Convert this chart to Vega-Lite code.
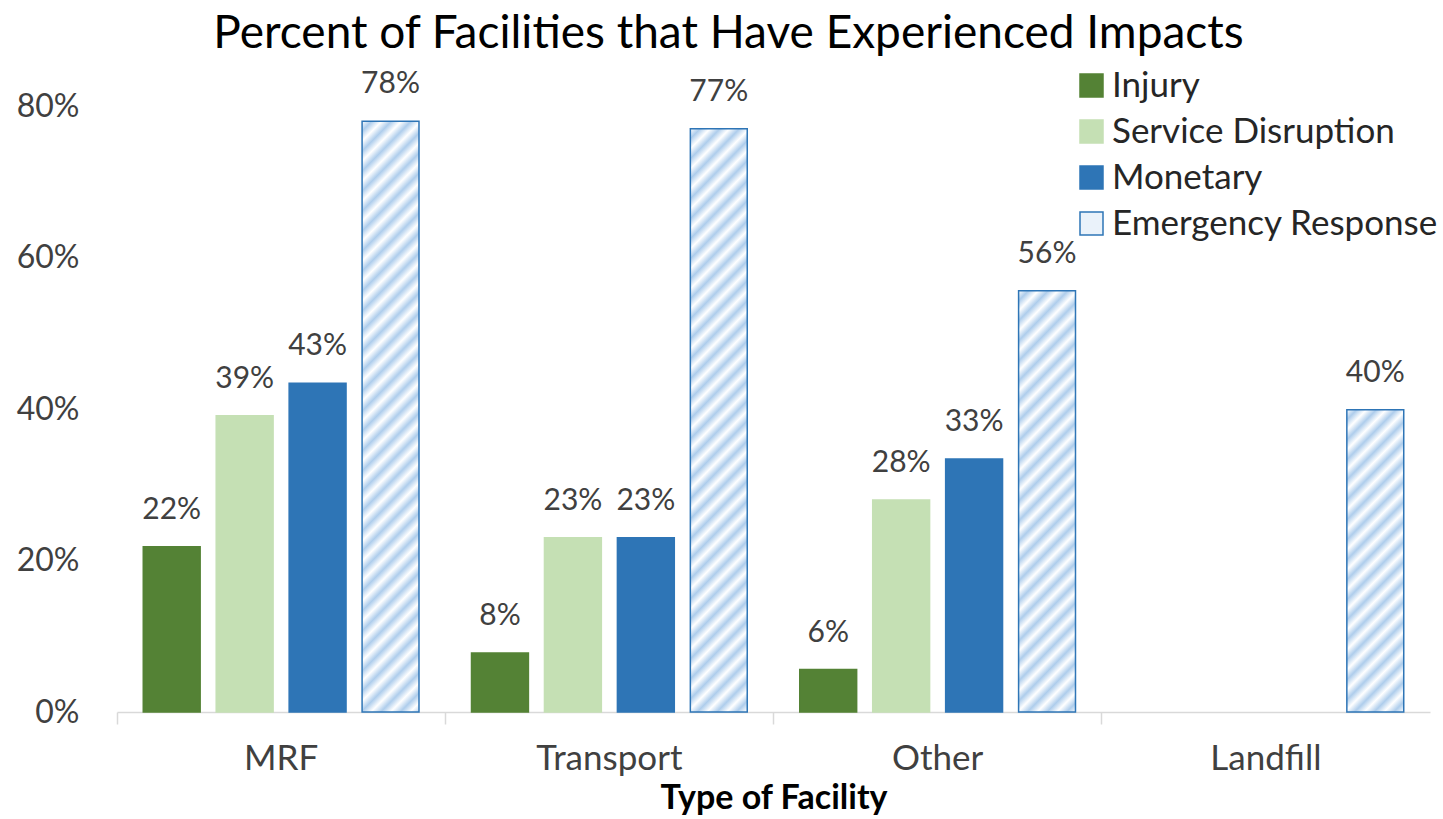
{
  "$schema": "https://vega.github.io/schema/vega-lite/v6.json",
  "width": 1313,
  "height": 606,
  "autosize": {"type": "none"},
  "padding": {"left": 117, "top": 106, "right": 13, "bottom": 107},
  "background": "white",
  "title": {"text": "Percent of Facilities that Have Experienced Impacts", "font": "Lato", "fontSize": 46, "fontWeight": "normal", "color": "#000000", "anchor": "middle", "dx": -45, "offset": 10},
  "data": {"values": [
    {"facility": "MRF", "series": "Injury", "value": 0.218},
    {"facility": "MRF", "series": "Service Disruption", "value": 0.391},
    {"facility": "MRF", "series": "Monetary", "value": 0.434},
    {"facility": "MRF", "series": "Emergency Response", "value": 0.78},
    {"facility": "Transport", "series": "Injury", "value": 0.078},
    {"facility": "Transport", "series": "Service Disruption", "value": 0.23},
    {"facility": "Transport", "series": "Monetary", "value": 0.23},
    {"facility": "Transport", "series": "Emergency Response", "value": 0.77},
    {"facility": "Other", "series": "Injury", "value": 0.056},
    {"facility": "Other", "series": "Service Disruption", "value": 0.28},
    {"facility": "Other", "series": "Monetary", "value": 0.334},
    {"facility": "Other", "series": "Emergency Response", "value": 0.556},
    {"facility": "Landfill", "series": "Emergency Response", "value": 0.399}
  ]},
  "encoding": {
    "x": {"field": "facility", "type": "nominal", "sort": ["MRF", "Transport", "Other", "Landfill"], "scale": {"paddingInner": 0, "paddingOuter": 0},
      "axis": {"title": "Type of Facility", "labelAngle": 0, "domainColor": "#D9D9D9", "domainWidth": 1.5, "ticks": true, "tickColor": "#D9D9D9", "tickWidth": 1.5, "tickSize": 12, "bandPosition": 0, "labelFont": "Lato", "labelFontSize": 35, "labelColor": "#404040", "labelPadding": 17, "titleFont": "Lato", "titleFontSize": 34, "titleFontWeight": "bold", "titleColor": "#000000", "titlePadding": 5, "grid": false}},
    "xOffset": {"field": "series", "type": "nominal", "scale": {"domain": ["Injury", "Service Disruption", "Monetary", "Emergency Response"], "paddingInner": 0.22, "paddingOuter": 0.36}},
    "y": {"field": "value", "type": "quantitative", "scale": {"domain": [0, 0.8]},
      "axis": {"title": null, "format": ".0%", "values": [0, 0.2, 0.4, 0.6, 0.8], "domain": false, "ticks": false, "grid": false, "labelFont": "Lato", "labelFontSize": 32, "labelColor": "#404040", "labelPadding": 38}}
  },
  "layer": [
    {
      "mark": {"type": "bar", "strokeWidth": 1.5},
      "encoding": {
        "fill": {"field": "series", "type": "nominal", "title": null,
          "scale": {"domain": ["Injury", "Service Disruption", "Monetary", "Emergency Response"], "range": ["#548235", "#C5E0B4", "#2E75B6", "#EAF2FA"]},
          "condition": [
            {"test": "datum.series === 'Emergency Response' && datum.facility === 'MRF'", "value": {"gradient": "linear", "x1": 0, "y1": 0, "x2": 0.1085, "y2": 1.1061, "stops": [
{"offset":0,"color":"#ffffff"},{"offset":0.0152,"color":"#aecdec"},{"offset":0.0303,"color":"#ffffff"},{"offset":0.0455,"color":"#aecdec"},{"offset":0.0606,"color":"#ffffff"},{"offset":0.0758,"color":"#aecdec"},{"offset":0.0909,"color":"#ffffff"},{"offset":0.1061,"color":"#aecdec"},{"offset":0.1212,"color":"#ffffff"},{"offset":0.1364,"color":"#aecdec"},{"offset":0.1515,"color":"#ffffff"},{"offset":0.1667,"color":"#aecdec"},{"offset":0.1818,"color":"#ffffff"},{"offset":0.1970,"color":"#aecdec"},{"offset":0.2121,"color":"#ffffff"},{"offset":0.2273,"color":"#aecdec"},{"offset":0.2424,"color":"#ffffff"},{"offset":0.2576,"color":"#aecdec"},{"offset":0.2727,"color":"#ffffff"},{"offset":0.2879,"color":"#aecdec"},{"offset":0.3030,"color":"#ffffff"},{"offset":0.3182,"color":"#aecdec"},{"offset":0.3333,"color":"#ffffff"},{"offset":0.3485,"color":"#aecdec"},{"offset":0.3636,"color":"#ffffff"},{"offset":0.3788,"color":"#aecdec"},{"offset":0.3939,"color":"#ffffff"},{"offset":0.4091,"color":"#aecdec"},{"offset":0.4242,"color":"#ffffff"},{"offset":0.4394,"color":"#aecdec"},{"offset":0.4545,"color":"#ffffff"},{"offset":0.4697,"color":"#aecdec"},{"offset":0.4848,"color":"#ffffff"},{"offset":0.5,"color":"#aecdec"},{"offset":0.5152,"color":"#ffffff"},{"offset":0.5303,"color":"#aecdec"},{"offset":0.5455,"color":"#ffffff"},{"offset":0.5606,"color":"#aecdec"},{"offset":0.5758,"color":"#ffffff"},{"offset":0.5909,"color":"#aecdec"},{"offset":0.6061,"color":"#ffffff"},{"offset":0.6212,"color":"#aecdec"},{"offset":0.6364,"color":"#ffffff"},{"offset":0.6515,"color":"#aecdec"},{"offset":0.6667,"color":"#ffffff"},{"offset":0.6818,"color":"#aecdec"},{"offset":0.6970,"color":"#ffffff"},{"offset":0.7121,"color":"#aecdec"},{"offset":0.7273,"color":"#ffffff"},{"offset":0.7424,"color":"#aecdec"},{"offset":0.7576,"color":"#ffffff"},{"offset":0.7727,"color":"#aecdec"},{"offset":0.7879,"color":"#ffffff"},{"offset":0.8030,"color":"#aecdec"},{"offset":0.8182,"color":"#ffffff"},{"offset":0.8333,"color":"#aecdec"},{"offset":0.8485,"color":"#ffffff"},{"offset":0.8636,"color":"#aecdec"},{"offset":0.8788,"color":"#ffffff"},{"offset":0.8939,"color":"#aecdec"},{"offset":0.9091,"color":"#ffffff"},{"offset":0.9242,"color":"#aecdec"},{"offset":0.9394,"color":"#ffffff"},{"offset":0.9545,"color":"#aecdec"},{"offset":0.9697,"color":"#ffffff"},{"offset":0.9848,"color":"#aecdec"},{"offset":1,"color":"#ffffff"}]}},
            {"test": "datum.series === 'Emergency Response' && datum.facility === 'Transport'", "value": {"gradient": "linear", "x1": 0, "y1": 0, "x2": 0.1115, "y2": 1.1210, "stops": [
{"offset":0,"color":"#ffffff"},{"offset":0.0152,"color":"#aecdec"},{"offset":0.0303,"color":"#ffffff"},{"offset":0.0455,"color":"#aecdec"},{"offset":0.0606,"color":"#ffffff"},{"offset":0.0758,"color":"#aecdec"},{"offset":0.0909,"color":"#ffffff"},{"offset":0.1061,"color":"#aecdec"},{"offset":0.1212,"color":"#ffffff"},{"offset":0.1364,"color":"#aecdec"},{"offset":0.1515,"color":"#ffffff"},{"offset":0.1667,"color":"#aecdec"},{"offset":0.1818,"color":"#ffffff"},{"offset":0.1970,"color":"#aecdec"},{"offset":0.2121,"color":"#ffffff"},{"offset":0.2273,"color":"#aecdec"},{"offset":0.2424,"color":"#ffffff"},{"offset":0.2576,"color":"#aecdec"},{"offset":0.2727,"color":"#ffffff"},{"offset":0.2879,"color":"#aecdec"},{"offset":0.3030,"color":"#ffffff"},{"offset":0.3182,"color":"#aecdec"},{"offset":0.3333,"color":"#ffffff"},{"offset":0.3485,"color":"#aecdec"},{"offset":0.3636,"color":"#ffffff"},{"offset":0.3788,"color":"#aecdec"},{"offset":0.3939,"color":"#ffffff"},{"offset":0.4091,"color":"#aecdec"},{"offset":0.4242,"color":"#ffffff"},{"offset":0.4394,"color":"#aecdec"},{"offset":0.4545,"color":"#ffffff"},{"offset":0.4697,"color":"#aecdec"},{"offset":0.4848,"color":"#ffffff"},{"offset":0.5,"color":"#aecdec"},{"offset":0.5152,"color":"#ffffff"},{"offset":0.5303,"color":"#aecdec"},{"offset":0.5455,"color":"#ffffff"},{"offset":0.5606,"color":"#aecdec"},{"offset":0.5758,"color":"#ffffff"},{"offset":0.5909,"color":"#aecdec"},{"offset":0.6061,"color":"#ffffff"},{"offset":0.6212,"color":"#aecdec"},{"offset":0.6364,"color":"#ffffff"},{"offset":0.6515,"color":"#aecdec"},{"offset":0.6667,"color":"#ffffff"},{"offset":0.6818,"color":"#aecdec"},{"offset":0.6970,"color":"#ffffff"},{"offset":0.7121,"color":"#aecdec"},{"offset":0.7273,"color":"#ffffff"},{"offset":0.7424,"color":"#aecdec"},{"offset":0.7576,"color":"#ffffff"},{"offset":0.7727,"color":"#aecdec"},{"offset":0.7879,"color":"#ffffff"},{"offset":0.8030,"color":"#aecdec"},{"offset":0.8182,"color":"#ffffff"},{"offset":0.8333,"color":"#aecdec"},{"offset":0.8485,"color":"#ffffff"},{"offset":0.8636,"color":"#aecdec"},{"offset":0.8788,"color":"#ffffff"},{"offset":0.8939,"color":"#aecdec"},{"offset":0.9091,"color":"#ffffff"},{"offset":0.9242,"color":"#aecdec"},{"offset":0.9394,"color":"#ffffff"},{"offset":0.9545,"color":"#aecdec"},{"offset":0.9697,"color":"#ffffff"},{"offset":0.9848,"color":"#aecdec"},{"offset":1,"color":"#ffffff"}]}},
            {"test": "datum.series === 'Emergency Response' && datum.facility === 'Other'", "value": {"gradient": "linear", "x1": 0, "y1": 0, "x2": 0.2120, "y2": 1.5385, "stops": [
{"offset":0,"color":"#ffffff"},{"offset":0.0152,"color":"#aecdec"},{"offset":0.0303,"color":"#ffffff"},{"offset":0.0455,"color":"#aecdec"},{"offset":0.0606,"color":"#ffffff"},{"offset":0.0758,"color":"#aecdec"},{"offset":0.0909,"color":"#ffffff"},{"offset":0.1061,"color":"#aecdec"},{"offset":0.1212,"color":"#ffffff"},{"offset":0.1364,"color":"#aecdec"},{"offset":0.1515,"color":"#ffffff"},{"offset":0.1667,"color":"#aecdec"},{"offset":0.1818,"color":"#ffffff"},{"offset":0.1970,"color":"#aecdec"},{"offset":0.2121,"color":"#ffffff"},{"offset":0.2273,"color":"#aecdec"},{"offset":0.2424,"color":"#ffffff"},{"offset":0.2576,"color":"#aecdec"},{"offset":0.2727,"color":"#ffffff"},{"offset":0.2879,"color":"#aecdec"},{"offset":0.3030,"color":"#ffffff"},{"offset":0.3182,"color":"#aecdec"},{"offset":0.3333,"color":"#ffffff"},{"offset":0.3485,"color":"#aecdec"},{"offset":0.3636,"color":"#ffffff"},{"offset":0.3788,"color":"#aecdec"},{"offset":0.3939,"color":"#ffffff"},{"offset":0.4091,"color":"#aecdec"},{"offset":0.4242,"color":"#ffffff"},{"offset":0.4394,"color":"#aecdec"},{"offset":0.4545,"color":"#ffffff"},{"offset":0.4697,"color":"#aecdec"},{"offset":0.4848,"color":"#ffffff"},{"offset":0.5,"color":"#aecdec"},{"offset":0.5152,"color":"#ffffff"},{"offset":0.5303,"color":"#aecdec"},{"offset":0.5455,"color":"#ffffff"},{"offset":0.5606,"color":"#aecdec"},{"offset":0.5758,"color":"#ffffff"},{"offset":0.5909,"color":"#aecdec"},{"offset":0.6061,"color":"#ffffff"},{"offset":0.6212,"color":"#aecdec"},{"offset":0.6364,"color":"#ffffff"},{"offset":0.6515,"color":"#aecdec"},{"offset":0.6667,"color":"#ffffff"},{"offset":0.6818,"color":"#aecdec"},{"offset":0.6970,"color":"#ffffff"},{"offset":0.7121,"color":"#aecdec"},{"offset":0.7273,"color":"#ffffff"},{"offset":0.7424,"color":"#aecdec"},{"offset":0.7576,"color":"#ffffff"},{"offset":0.7727,"color":"#aecdec"},{"offset":0.7879,"color":"#ffffff"},{"offset":0.8030,"color":"#aecdec"},{"offset":0.8182,"color":"#ffffff"},{"offset":0.8333,"color":"#aecdec"},{"offset":0.8485,"color":"#ffffff"},{"offset":0.8636,"color":"#aecdec"},{"offset":0.8788,"color":"#ffffff"},{"offset":0.8939,"color":"#aecdec"},{"offset":0.9091,"color":"#ffffff"},{"offset":0.9242,"color":"#aecdec"},{"offset":0.9394,"color":"#ffffff"},{"offset":0.9545,"color":"#aecdec"},{"offset":0.9697,"color":"#ffffff"},{"offset":0.9848,"color":"#aecdec"},{"offset":1,"color":"#ffffff"}]}},
            {"test": "datum.series === 'Emergency Response' && datum.facility === 'Landfill'", "value": {"gradient": "linear", "x1": 0, "y1": 0, "x2": 0.4043, "y2": 2.1066, "stops": [
{"offset":0,"color":"#ffffff"},{"offset":0.0152,"color":"#aecdec"},{"offset":0.0303,"color":"#ffffff"},{"offset":0.0455,"color":"#aecdec"},{"offset":0.0606,"color":"#ffffff"},{"offset":0.0758,"color":"#aecdec"},{"offset":0.0909,"color":"#ffffff"},{"offset":0.1061,"color":"#aecdec"},{"offset":0.1212,"color":"#ffffff"},{"offset":0.1364,"color":"#aecdec"},{"offset":0.1515,"color":"#ffffff"},{"offset":0.1667,"color":"#aecdec"},{"offset":0.1818,"color":"#ffffff"},{"offset":0.1970,"color":"#aecdec"},{"offset":0.2121,"color":"#ffffff"},{"offset":0.2273,"color":"#aecdec"},{"offset":0.2424,"color":"#ffffff"},{"offset":0.2576,"color":"#aecdec"},{"offset":0.2727,"color":"#ffffff"},{"offset":0.2879,"color":"#aecdec"},{"offset":0.3030,"color":"#ffffff"},{"offset":0.3182,"color":"#aecdec"},{"offset":0.3333,"color":"#ffffff"},{"offset":0.3485,"color":"#aecdec"},{"offset":0.3636,"color":"#ffffff"},{"offset":0.3788,"color":"#aecdec"},{"offset":0.3939,"color":"#ffffff"},{"offset":0.4091,"color":"#aecdec"},{"offset":0.4242,"color":"#ffffff"},{"offset":0.4394,"color":"#aecdec"},{"offset":0.4545,"color":"#ffffff"},{"offset":0.4697,"color":"#aecdec"},{"offset":0.4848,"color":"#ffffff"},{"offset":0.5,"color":"#aecdec"},{"offset":0.5152,"color":"#ffffff"},{"offset":0.5303,"color":"#aecdec"},{"offset":0.5455,"color":"#ffffff"},{"offset":0.5606,"color":"#aecdec"},{"offset":0.5758,"color":"#ffffff"},{"offset":0.5909,"color":"#aecdec"},{"offset":0.6061,"color":"#ffffff"},{"offset":0.6212,"color":"#aecdec"},{"offset":0.6364,"color":"#ffffff"},{"offset":0.6515,"color":"#aecdec"},{"offset":0.6667,"color":"#ffffff"},{"offset":0.6818,"color":"#aecdec"},{"offset":0.6970,"color":"#ffffff"},{"offset":0.7121,"color":"#aecdec"},{"offset":0.7273,"color":"#ffffff"},{"offset":0.7424,"color":"#aecdec"},{"offset":0.7576,"color":"#ffffff"},{"offset":0.7727,"color":"#aecdec"},{"offset":0.7879,"color":"#ffffff"},{"offset":0.8030,"color":"#aecdec"},{"offset":0.8182,"color":"#ffffff"},{"offset":0.8333,"color":"#aecdec"},{"offset":0.8485,"color":"#ffffff"},{"offset":0.8636,"color":"#aecdec"},{"offset":0.8788,"color":"#ffffff"},{"offset":0.8939,"color":"#aecdec"},{"offset":0.9091,"color":"#ffffff"},{"offset":0.9242,"color":"#aecdec"},{"offset":0.9394,"color":"#ffffff"},{"offset":0.9545,"color":"#aecdec"},{"offset":0.9697,"color":"#ffffff"},{"offset":0.9848,"color":"#aecdec"},{"offset":1,"color":"#ffffff"}]}}
          ]
        },
        "stroke": {"field": "series", "type": "nominal", "title": null,
          "scale": {"domain": ["Injury", "Service Disruption", "Monetary", "Emergency Response"], "range": ["#548235", "#C5E0B4", "#2E75B6", "#2E75B6"]}}
      }
    },
    {
      "mark": {"type": "text", "font": "Lato", "fontSize": 30, "color": "#404040", "baseline": "middle", "dy": -37},
      "encoding": {"text": {"field": "value", "type": "quantitative", "format": ".0%"}}
    }
  ],
  "config": {
    "view": {"stroke": null},
    "legend": {"orient": "none", "legendX": 957, "legendY": -38, "symbolType": "square", "symbolSize": 529, "symbolStrokeWidth": 1.5, "labelFont": "Lato", "labelFontSize": 35, "labelColor": "#262626", "labelOffset": 3, "rowPadding": 10, "labelLimit": 400}
  }
}
